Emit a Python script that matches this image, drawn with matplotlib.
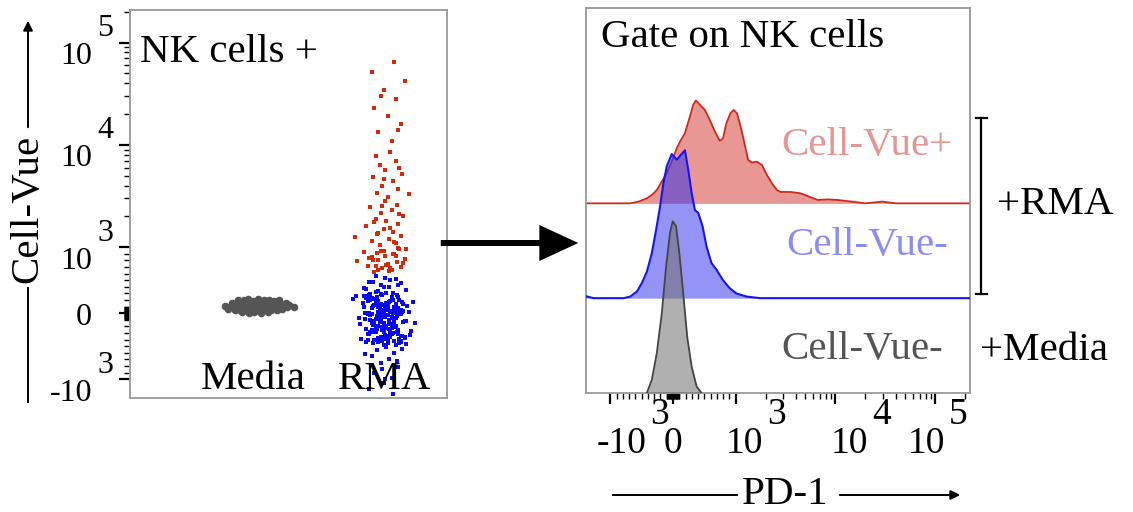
import matplotlib
matplotlib.use('Agg')
import matplotlib.pyplot as plt
from matplotlib.patches import FancyArrowPatch
from matplotlib.lines import Line2D
import numpy as np

plt.rcParams['font.family'] = ['Liberation Serif', 'DejaVu Serif']

# ---- left panel: Cell-Vue signal of NK cells, per condition
groups = ['Media', 'RMA']
group_pos = [1, 2]

media_x = [0.82, 0.87, 0.91, 0.95, 0.99, 1.03, 1.07, 1.11, 1.15, 1.19, 1.23,
           0.84, 0.88, 0.93, 0.97, 1.01, 1.05, 1.09, 1.13, 1.17, 1.21, 1.25,
           0.86, 0.90, 0.94, 0.98, 1.02, 1.06, 1.10, 1.14, 1.18, 1.22,
           0.89, 0.93, 0.96, 1.00, 1.04, 1.08, 1.12, 1.16, 1.20,
           0.92, 0.97, 1.01, 1.06, 1.11,
           0.79, 1.27, 0.81, 1.26, 1.31]
media_y = [95, 105, 88, 112, 100, 92, 108, 97, 115, 90, 103,
           148, 160, 142, 155, 165, 150, 158, 145, 162, 140, 150,
           55, 45, 60, 40, 52, 48, 58, 42, 50, 62,
           195, 205, 210, 190, 215, 200, 198, 185, 192,
           10, -5, 15, 5, 20,
           110, 130, 60, 90, 100]

# RMA, Cell-Vue negative (blue)
rma_neg_x = [1.93, 2.08, 1.88, 2.12, 1.97, 2.03, 1.84, 2.16, 1.95, 2.06, 2.00, 1.91, 2.10, 1.86, 2.04, 1.99,
             1.98, 2.05, 1.92, 2.11, 1.87, 2.01, 2.14, 1.95, 2.07, 1.90, 2.02, 1.97, 2.09, 1.85, 2.12, 1.94,
             2.00, 2.06, 1.89, 2.15, 1.96, 2.03, 1.91, 2.08, 1.99, 1.86, 2.10, 1.93, 2.04, 1.88, 2.13, 1.97,
             2.01, 1.92, 2.07, 1.95, 2.02, 1.99,
             2.09, 1.90, 2.04, 1.83, 2.17, 1.96, 2.11, 1.87, 2.00, 1.93, 2.14, 1.81, 2.06, 1.98, 1.89, 2.19,
             1.95, 2.02, 1.91, 2.08,
             1.78, 2.21, 1.84, 2.18, 1.80, 2.23, 1.94, 2.05, 1.82, 2.16, 1.76, 2.12, 1.97, 2.20, 1.86,
             2.01, 1.94, 2.07, 1.90, 2.03, 1.97, 2.10, 1.92, 2.05, 1.99, 1.88, 2.06, 1.96, 2.02, 2.13, 1.85,
             2.09, 1.98, 2.00,
             1.96, 2.04, 1.90, 2.10, 1.99, 2.01, 1.87, 2.13, 1.94, 2.06, 1.92, 2.08, 1.98, 2.02, 1.85, 2.15,
             1.95, 2.05, 1.89, 2.11, 2.00, 1.93, 2.07, 1.97, 2.03, 1.88, 2.12, 1.91, 2.09, 1.99, 2.01, 1.86,
             2.14, 1.96, 2.04, 1.94, 2.06, 1.90, 2.10, 1.98, 2.02, 1.92, 2.08, 1.97, 2.03, 1.84, 2.16, 1.95,
             2.05, 1.89, 2.11, 2.00, 1.93, 2.07, 1.99, 2.01, 1.87, 2.13, 1.96, 2.04, 1.91, 2.09, 1.98, 2.02,
             1.94, 2.06, 1.88, 2.12, 1.97, 2.03, 1.92, 2.08, 2.00, 1.95, 2.05, 1.86, 2.14, 1.99, 2.01, 1.90,
             2.10, 1.93, 2.07, 1.96, 2.04, 1.89, 2.11, 1.98, 2.02, 1.94, 2.06, 1.85, 2.15, 1.97, 2.03, 1.91,
             2.09, 2.00, 1.95, 2.05, 1.88, 2.12, 1.99, 2.01, 1.92, 2.08, 1.96, 2.04, 1.93, 2.07]
rma_neg_y = [560, 520, 480, 450, 420, 400, 380, 350, 330, 310, 540, 470, 430, 360, 500, 390,
             280, 250, 220, 200, 180, 160, 140, 120, 100, 80, 60, 40, 20, 0, -20, -40,
             -60, -80, -100, -120, -140, -160, -180, -200, -220, -240, -260, -280, -300, -320, -340, -360,
             -380, -400, -420, -440, -460, -480,
             270, 230, 190, 150, 110, 70, 30, -10, -50, -90, -130, -170, -210, -250, -290, -330,
             -370, -410, -450, -490,
             260, 170, 90, 10, -70, -150, -230, -310, -390, -470, 210, 50, -110, -270, -430,
             -520, -560, -600, -650, -700, -760, -820, -900, -980, -1100, -1250, -1400, -1600, -1750, -540, -620,
             -720, -850, -1000,
             -35, 185, -260, 75, -145, 310, -410, 15, 240, -305, 130, -70, -215, 45, 265, -380,
             95, -175, -25, 205, -330, 155, -115, 290, -240, 5, -440, 115, 65, -285, -195, 225,
             35, -95, -365, 175, -5, -150, 245, -420, 85, -270, 135, -55, -345, 255, -125, 25,
             -230, 195, -395, 55, 320, -165, -15, 105, -310, 165, -80, -255, 215, -45, -355, 125,
             -190, 0, 275, -415, 145, -105, -280, 35, -225, 185, -60, 235, -135, -390, 95, -20,
             -320, 155, -210, 65, -170, 295, -455, 120, -30, -245, 205, -85, -360, 45, 170, -115,
             -290, 80, -200, 15, 250, -340, -65, 140, -155, 100, -400, 30, -235, 60]

# RMA, Cell-Vue positive (red)
rma_pos_x = [1.92, 2.05, 1.98, 2.12, 1.87, 2.02, 2.09, 1.95, 2.15, 1.90, 2.00, 2.07, 1.84, 1.97, 2.11,
             2.03, 1.93, 2.14, 1.88, 2.06, 1.99, 2.10, 1.95, 2.01, 1.79, 2.08, 1.94, 2.16, 2.04, 1.91,
             1.96, 2.08, 1.90, 2.03, 2.12, 1.94, 2.06, 1.99, 1.86, 2.10, 2.01, 1.93, 2.14, 1.97, 2.05,
             1.89, 2.09, 2.00, 1.77, 2.04, 1.92, 2.11, 1.98, 2.07, 1.95,
             2.02, 1.94, 2.10, 1.98, 2.06, 1.91, 2.13, 2.00, 1.96, 2.08, 1.93, 2.04, 2.18, 1.99, 2.11,
             2.05, 1.95, 2.12, 2.02, 1.92, 2.08, 1.99, 2.15, 1.90, 2.07, 2.10, 1.97]
rma_pos_y = [620, 650, 680, 700, 720, 750, 770, 800, 820, 850, 870, 900, 930, 950, 980,
             640, 710, 760, 830, 890, 940, 990, 660, 730, 790, 860, 910, 970, 690, 810,
             1050, 1100, 1150, 1200, 1280, 1350, 1420, 1500, 1600, 1700, 1800, 1900, 2000, 2150, 2300,
             2450, 2600, 2800, 1250, 1550, 1750, 2100, 2500, 1120, 1380,
             3100, 3400, 3700, 4000, 4400, 4800, 5200, 5700, 6300, 7000, 7800, 8600, 3300, 4600, 6000,
             11000, 13500, 16000, 19000, 23000, 28000, 34000, 42000, 52000, 65000, 14000, 30000]

# ---- right panel: PD-1 histograms gated on NK cells (offset overlay)
pos_pd1 = [-1800, -683, -550, -418, -338, -259, -179, -100, -21, 59, 111, 190, 270, 322, 365, 429,
           508, 587, 667, 746, 798, 852, 916, 968, 1031, 1143, 1235, 1335, 1446, 1626, 1830, 2056,
           2313, 2600, 2810, 3556, 4500, 5260, 6660, 8420, 10660, 14560, 19900, 29450, 40000, 230000]
pos_height = [0, 0, 0.018, 0.053, 0.088, 0.14, 0.23, 0.32, 0.44, 0.58, 0.65, 0.74, 0.915, 1.04, 1.085, 1.04,
              0.985, 0.88, 0.76, 0.66, 0.685, 0.845, 0.95, 0.985, 0.95, 0.775, 0.615, 0.457, 0.43, 0.44, 0.405, 0.30,
              0.21, 0.14, 0.12, 0.12, 0.105, 0.077, 0.035, 0.042, 0.035, 0.018, 0, 0.018, 0, 0]

neg_pd1 = [-1800, -1480, -948, -789, -683, -576, -497, -417, -338, -270, -206, -154, -100, -21, 59, 190,
           243, 297, 349, 402, 471, 535, 614, 694, 798, 905, 1016, 1286, 1757, 230000]
neg_height = [0.024, 0, 0, 0, 0.017, 0.07, 0.16, 0.28, 0.475, 0.72, 0.97, 1.21, 1.39, 1.52, 1.46, 1.56,
              1.355, 1.11, 0.93, 0.90, 0.76, 0.545, 0.37, 0.30, 0.19, 0.105, 0.05, 0.017, 0, 0]

media_pd1 = [-418, -338, -259, -179, -111, -48, -5, 48, 100, 163, 227, 297, 376, 456]
media_height = [0, 0.14, 0.42, 0.84, 1.33, 1.69, 1.81, 1.76, 1.48, 1.05, 0.59, 0.28, 0.07, 0]

hist_offsets = [2, 1, 0]
hist_labels = ['Cell-Vue+', 'Cell-Vue-', 'Cell-Vue-']

# biexponential-style axis ticks
major_ticks = [-1e3, 0, 1e3, 1e4, 1e5]
major_mant = ['-10', '0', '10', '10', '10']
major_exp = ['3', '', '3', '4', '5']
minor_ticks = sorted([s * m * 10 ** k for s in (1, -1) for k in (1, 2) for m in range(1, 10)]
                     + [m * 10 ** k for k in (3, 4) for m in range(2, 10)] + [2e5])

W, H = 1133, 512
fig = plt.figure(figsize=(W / 100, H / 100), dpi=100)

# ---------------- left panel
ax1 = fig.add_axes([130 / W, 1 - 398 / H, 317 / W, 388 / H])
ax1.scatter(media_x, media_y, s=30, marker='o', color='#555555', lw=0)
ax1.scatter(rma_neg_x, rma_neg_y, s=10, marker='s', color='#0a0aee', lw=0)
ax1.scatter(rma_pos_x, rma_pos_y, s=6, marker='s', color='#d42a0a', lw=0)
ax1.set_yscale('symlog', linthresh=1000, linscale=0.58)
ax1.set_ylim(-1530, 2.08e5)
ax1.set_xlim(0.068, 2.47)
ax1.set_xticks([])
ax1.set_yticks(major_ticks, labels=[''] * len(major_ticks))
ax1.set_yticks(minor_ticks, minor=True)
ax1.tick_params(axis='y', which='major', direction='out', length=8, width=1.6, color='k')
ax1.tick_params(axis='y', which='minor', direction='out', length=4, width=1.0, color='k')
ax1.yaxis.set_minor_formatter(plt.NullFormatter())
for sp in ax1.spines.values():
    sp.set_color('#999999')
    sp.set_linewidth(1.3)

for v, mant, ex in zip(major_ticks, major_mant, major_exp):
    t = ax1.annotate(mant, xy=(0, v), xycoords=ax1.get_yaxis_transform(),
                     xytext=(-38, -14 if ex else -4), textcoords='offset pixels',
                     ha='right', va='center', fontsize=23)
    if ex:
        ax1.annotate(ex, xy=(1, 0.5), xycoords=t, xytext=(5, 28), textcoords='offset pixels',
                     ha='left', va='center', fontsize=23)

for g, p in zip(groups, group_pos):
    ax1.text(p, 0.023, g, transform=ax1.get_xaxis_transform(), ha='center', va='baseline', fontsize=29.5)
ax1.text(0.032, 0.866, 'NK cells +', transform=ax1.transAxes, ha='left', va='baseline', fontsize=29.5)

# y label with arrow
fig.text(28 / W, 1 - 209 / H, 'Cell-Vue', rotation=90, ha='center', va='center', fontsize=29.5)
fig.add_artist(Line2D([28 / W, 28 / W], [1 - 402 / H, 1 - 288 / H], color='k', lw=1.4))
fig.add_artist(FancyArrowPatch((28 / W, 1 - 130 / H), (28 / W, 1 - 18 / H), transform=fig.transFigure,
                               arrowstyle='-|>', mutation_scale=14, lw=1.4, color='k'))

# ---------------- right panel
ax2 = fig.add_axes([586 / W, 1 - 393 / H, 384 / W, 385 / H])
ax2.set_xscale('symlog', linthresh=1000, linscale=0.565)
ax2.set_xlim(-1755, 2.23e5)
ax2.set_ylim(0, 4.06)

ax2.fill_between(pos_pd1, hist_offsets[0], hist_offsets[0] + np.array(pos_height),
                 color='#d3302a', alpha=0.5, lw=0, zorder=1)
ax2.plot(pos_pd1, hist_offsets[0] + np.array(pos_height), color='#cc2a1a', lw=1.3, zorder=2)
ax2.fill_between(neg_pd1, hist_offsets[1], hist_offsets[1] + np.array(neg_height),
                 color='#2a2aee', alpha=0.5, lw=0, zorder=3)
ax2.plot(neg_pd1, hist_offsets[1] + np.array(neg_height), color='#1515ee', lw=1.5, zorder=4)
ax2.fill_between(media_pd1, hist_offsets[2], hist_offsets[2] + np.array(media_height),
                 color='#707070', alpha=0.55, lw=0, zorder=5)
ax2.plot(media_pd1, hist_offsets[2] + np.array(media_height), color='#444444', lw=1.3, zorder=6)

ax2.set_yticks([])
ax2.set_xticks(major_ticks, labels=[''] * len(major_ticks))
ax2.set_xticks(minor_ticks, minor=True)
ax2.xaxis.set_minor_formatter(plt.NullFormatter())
ax2.tick_params(axis='x', which='major', direction='out', length=8, width=1.6, color='k')
ax2.tick_params(axis='x', which='minor', direction='out', length=4, width=1.0, color='k')
for sp in ax2.spines.values():
    sp.set_color('#999999')
    sp.set_linewidth(1.3)

xlab_dx = [11, 0, 9, 14, -9]
for v, mant, ex, dx in zip(major_ticks, major_mant, major_exp, xlab_dx):
    t = ax2.annotate(mant, xy=(v, 0), xycoords=ax2.get_xaxis_transform(),
                     xytext=(dx, -51), textcoords='offset pixels',
                     ha='center', va='center', fontsize=27)
    if ex:
        ax2.annotate(ex, xy=(1, 0.5), xycoords=t, xytext=(4, 29), textcoords='offset pixels',
                     ha='left', va='center', fontsize=27)

ax2.text(0.039, 0.899, 'Gate on NK cells', transform=ax2.transAxes, ha='left', va='baseline', fontsize=29.5)
hist_text_pos = [(0.956, 0.642), (0.943, 0.384), (0.930, 0.112)]
hist_text_col = ['#e49694', '#8c8cf5', '#555555']
for lab, (tx, ty), c in zip(hist_labels, hist_text_pos, hist_text_col):
    ax2.text(tx, ty, lab, transform=ax2.transAxes, ha='right', va='center', fontsize=29.5, color=c, zorder=7)

# x label with arrow
fig.text(785 / W, 1 - 495 / H, 'PD-1', ha='center', va='center', fontsize=29.5)
fig.add_artist(Line2D([613 / W, 737 / W], [1 - 495 / H, 1 - 495 / H], color='k', lw=1.4))
fig.add_artist(FancyArrowPatch((837 / W, 1 - 495 / H), (963 / W, 1 - 495 / H), transform=fig.transFigure,
                               arrowstyle='-|>', mutation_scale=14, lw=1.4, color='k'))

# condition bracket and labels
fig.add_artist(Line2D([981 / W, 981 / W], [1 - 118 / H, 1 - 294 / H], color='k', lw=1.6))
fig.add_artist(Line2D([976 / W, 987 / W], [1 - 118 / H, 1 - 118 / H], color='k', lw=1.6))
fig.add_artist(Line2D([976 / W, 987 / W], [1 - 294 / H, 1 - 294 / H], color='k', lw=1.6))
fig.text(997 / W, 1 - 205 / H, '+RMA', ha='left', va='center', fontsize=29.5)
fig.text(980 / W, 1 - 350 / H, '+Media', ha='left', va='center', fontsize=29.5)

# big arrow between the panels
fig.add_artist(FancyArrowPatch((438 / W, 1 - 243 / H), (581 / W, 1 - 243 / H), transform=fig.transFigure,
                               arrowstyle='simple,head_length=28,head_width=26,tail_width=4.3',
                               mutation_scale=1, color='k', lw=0))

fig.savefig('out.png', dpi=100)
